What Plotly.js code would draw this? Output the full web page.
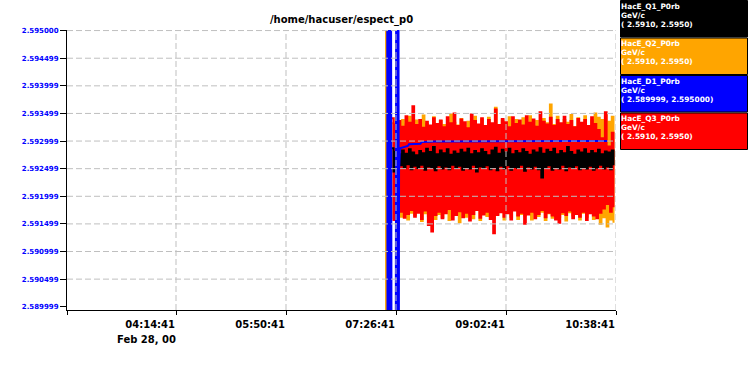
<!DOCTYPE html>
<html><head><meta charset="utf-8">
<script src="https://cdn.plot.ly/plotly-3.0.1.min.js"></script>
<style>html,body{margin:0;padding:0;background:#fff}#chart{width:748px;height:375px}</style>
</head><body><div id="chart"></div>
<script>
const chartTitle = "/home/hacuser/espect_p0";
const day = "2000-02-28";
const dateLabel = "Feb 28, 00";
const xTickTimes = ["02:39:33","04:14:41","05:50:41","07:26:41","09:02:41","10:38:41"];
const xTickLabels = ["","04:14:41","05:50:41","07:26:41","09:02:41","10:38:41"];
const xRangeTimes = ["02:39:33","10:38:41"];
const yTickLabels = ["2.595000","2.594499","2.593999","2.593499","2.592999","2.592499","2.591999","2.591499","2.590999","2.590499","2.589999"];
const yRange = [2.58994, 2.59501];

const sampleTimes = [
"07:23:00","07:24:30","07:26:00","07:27:30","07:29:00","07:30:30","07:32:00","07:33:30","07:35:00","07:36:30",
"07:38:00","07:39:30","07:41:00","07:42:30","07:44:00","07:45:30","07:47:00","07:48:30","07:50:00","07:51:30",
"07:53:00","07:54:30","07:56:00","07:57:30","07:59:00","08:00:30","08:02:00","08:03:30","08:05:00","08:06:30",
"08:08:00","08:09:30","08:11:00","08:12:30","08:14:00","08:15:30","08:17:00","08:18:30","08:20:00","08:21:30",
"08:23:00","08:24:30","08:26:00","08:27:30","08:29:00","08:30:30","08:32:00","08:33:30","08:35:00","08:36:30",
"08:38:00","08:39:30","08:41:00","08:42:30","08:44:00","08:45:30","08:47:00","08:48:30","08:50:00","08:51:30",
"08:53:00","08:54:30","08:56:00","08:57:30","08:59:00","09:00:30","09:02:00","09:03:30","09:05:00","09:06:30",
"09:08:00","09:09:30","09:11:00","09:12:30","09:14:00","09:15:30","09:17:00","09:18:30","09:20:00","09:21:30",
"09:23:00","09:24:30","09:26:00","09:27:30","09:29:00","09:30:30","09:32:00","09:33:30","09:35:00","09:36:30",
"09:38:00","09:39:30","09:41:00","09:42:30","09:44:00","09:45:30","09:47:00","09:48:30","09:50:00","09:51:30",
"09:53:00","09:54:30","09:56:00","09:57:30","09:59:00","10:00:30","10:02:00","10:03:30","10:05:00","10:06:30",
"10:08:00","10:09:30","10:11:00","10:12:30","10:14:00","10:15:30","10:17:00","10:18:30","10:20:00","10:21:30",
"10:23:00","10:24:30","10:26:00","10:27:30","10:29:00","10:30:30","10:32:00","10:33:30","10:35:00","10:36:30"];

// HacE_Q3_P0rb (red)
const q3Values = [
2.59341,2.59157,2.59330,2.59165,2.59336,2.59172,2.59326,2.59161,2.59345,2.59168,
2.59333,2.59175,2.59363,2.59163,2.59329,2.59170,2.59338,2.59159,2.59324,2.59174,
2.59335,2.59148,2.59328,2.59136,2.59341,2.59166,2.59331,2.59172,2.59337,2.59160,
2.59325,2.59169,2.59343,2.59177,2.59332,2.59158,2.59350,2.59166,2.59327,2.59173,
2.59339,2.59162,2.59334,2.59170,2.59323,2.59156,2.59348,2.59168,2.59336,2.59175,
2.59330,2.59161,2.59341,2.59167,2.59327,2.59172,2.59338,2.59159,2.59332,2.59133,
2.59357,2.59166,2.59329,2.59171,2.59340,2.59163,2.59334,2.59169,2.59325,2.59158,
2.59343,2.59174,2.59331,2.59165,2.59337,2.59170,2.59328,2.59150,2.59345,2.59167,
2.59333,2.59172,2.59339,2.59160,2.59326,2.59168,2.59352,2.59175,2.59335,2.59162,
2.59330,2.59170,2.59342,2.59165,2.59327,2.59158,2.59338,2.59152,2.59332,2.59171,
2.59344,2.59166,2.59329,2.59174,2.59336,2.59160,2.59325,2.59168,2.59340,2.59163,
2.59333,2.59172,2.59338,2.59157,2.59327,2.59169,2.59343,2.59165,2.59331,2.59160,
2.59320,2.59170,2.59305,2.59178,2.59352,2.59186,2.59290,2.59172,2.59315,2.59180];

// HacE_Q2_P0rb (orange)
const q2Values = [
2.59332,2.59160,2.59341,2.59168,2.59325,2.59163,2.59338,2.59175,2.59330,2.59158,
2.59344,2.59170,2.59328,2.59166,2.59337,2.59173,2.59322,2.59155,2.59346,2.59169,
2.59331,2.59164,2.59326,2.59176,2.59343,2.59159,2.59324,2.59168,2.59336,2.59162,
2.59329,2.59174,2.59321,2.59157,2.59348,2.59171,2.59333,2.59166,2.59328,2.59153,
2.59340,2.59173,2.59323,2.59163,2.59335,2.59168,2.59329,2.59160,2.59344,2.59175,
2.59326,2.59157,2.59339,2.59169,2.59324,2.59164,2.59342,2.59172,2.59331,2.59160,
2.59360,2.59167,2.59328,2.59174,2.59337,2.59158,2.59323,2.59170,2.59343,2.59163,
2.59330,2.59176,2.59338,2.59159,2.59325,2.59168,2.59341,2.59165,2.59330,2.59173,
2.59345,2.59158,2.59327,2.59170,2.59336,2.59164,2.59324,2.59172,2.59340,2.59157,
2.59332,2.59169,2.59366,2.59161,2.59329,2.59175,2.59344,2.59163,2.59326,2.59168,
2.59338,2.59156,2.59333,2.59171,2.59347,2.59165,2.59325,2.59174,2.59341,2.59158,
2.59330,2.59170,2.59345,2.59163,2.59327,2.59172,2.59337,2.59159,2.59350,2.59167,
2.59342,2.59150,2.59338,2.59162,2.59346,2.59145,2.59335,2.59158,2.59344,2.59152];
const q2PreTimes = ["07:18:00","07:18:01","07:18:02"];
const q2PreValues = [2.5966, 2.5884, null];

// HacE_Q1_P0rb (black)
const q1Values = [
2.59287,2.59245,2.59280,2.59250,2.59276,2.59256,2.59283,2.59252,2.59277,2.59258,
2.59285,2.59249,2.59279,2.59255,2.59274,2.59251,2.59282,2.59257,2.59278,2.59248,
2.59286,2.59254,2.59280,2.59252,2.59289,2.59247,2.59276,2.59256,2.59283,2.59250,
2.59278,2.59254,2.59285,2.59249,2.59275,2.59257,2.59281,2.59251,2.59277,2.59255,
2.59284,2.59248,2.59279,2.59253,2.59286,2.59250,2.59276,2.59257,2.59282,2.59245,
2.59278,2.59254,2.59285,2.59251,2.59280,2.59256,2.59274,2.59249,2.59283,2.59253,
2.59288,2.59247,2.59277,2.59255,2.59284,2.59250,2.59279,2.59256,2.59286,2.59248,
2.59276,2.59253,2.59282,2.59251,2.59278,2.59257,2.59285,2.59246,2.59280,2.59254,
2.59275,2.59250,2.59283,2.59255,2.59279,2.59249,2.59287,2.59234,2.59277,2.59252,
2.59284,2.59256,2.59280,2.59248,2.59286,2.59253,2.59276,2.59250,2.59282,2.59257,
2.59278,2.59247,2.59289,2.59254,2.59280,2.59251,2.59275,2.59256,2.59283,2.59249,
2.59279,2.59253,2.59285,2.59250,2.59277,2.59255,2.59282,2.59248,2.59278,2.59252,
2.59284,2.59257,2.59276,2.59250,2.59281,2.59254,2.59279,2.59249,2.59283,2.59256];

// HacE_D1_P0rb (blue)
const d1Times = ["07:19:00","07:19:20","07:19:40","07:20:00","07:20:20","07:20:40","07:21:00","07:21:20","07:21:40","07:22:00","07:22:20","07:22:45",
"07:24:00",
"07:26:30","07:26:50","07:27:10","07:27:30","07:27:50","07:28:10","07:28:30","07:28:50","07:29:10",
"07:29:20","07:30:10","07:37:00","07:38:00","07:48:00","07:49:00","08:00:00","09:00:00","10:00:00","10:31:00"];
const d1Values = [2.5960,2.5888,2.5960,2.5888,2.5960,2.5888,2.5960,2.5888,2.5960,2.5888,2.5960,2.5888,
null,
2.5888,2.5960,2.5888,2.5960,2.5888,2.5960,2.5888,2.5960,2.5888,
2.59245,2.59287,2.59291,2.59294,2.59295,2.59298,2.59299,2.59300,2.59300,2.59300];

const legendNames = ["HacE_Q1_P0rb","HacE_Q2_P0rb","HacE_D1_P0rb","HacE_Q3_P0rb"];
const legendUnits = ["GeV/c","GeV/c","GeV/c","GeV/c"];
const legendRanges = ["( 2.5910, 2.5950)","( 2.5910, 2.5950)","( 2.589999, 2.595000)","( 2.5910, 2.5950)"];
const legendColors = ["#000000","#ffa500","#0000ff","#ff0000"];

const toDate = t => day + " " + t;
const L = 67, R = 616, T = 30, B = 310;
const px = x => (x - L) / (R - L);
const py = y => (B - y) / (B - T);
const FONT = "DejaVu Sans, Verdana, sans-serif";

const traces = [
  {x: q2PreTimes.concat(sampleTimes).map(toDate), y: q2PreValues.concat(q2Values), type: "scatter", mode: "lines",
   line: {color: "#ffa500", width: 2, shape: "hv"}, connectgaps: false, name: legendNames[1]},
  {x: sampleTimes.map(toDate), y: q3Values, type: "scatter", mode: "lines",
   line: {color: "#ff0000", width: 2, shape: "hv"}, name: legendNames[3]},
  {x: sampleTimes.map(toDate), y: q1Values, type: "scatter", mode: "lines",
   line: {color: "#000000", width: 2, shape: "hv"}, name: legendNames[0]},
  {x: d1Times.map(toDate), y: d1Values, type: "scatter", mode: "lines", connectgaps: false,
   line: {color: "#0000ff", width: 2}, name: legendNames[2]}
];

const gridStyle = {color: "#bfbfbf", width: 1, dash: "6px,3px"};
const shapes = [];
xTickTimes.slice(1).forEach(t => shapes.push({type: "line", xref: "x", yref: "paper", x0: toDate(t), x1: toDate(t), y0: 0, y1: 1, line: gridStyle, layer: "above"}));
yTickLabels.slice(0, -1).forEach(s => shapes.push({type: "line", xref: "paper", yref: "y", x0: 0, x1: 1, y0: parseFloat(s), y1: parseFloat(s), line: gridStyle, layer: "above"}));

const annotations = [];
legendNames.forEach((n, i) => {
  const top = 0.5 + 37.5 * i;
  shapes.push({type: "rect", xref: "paper", yref: "paper", x0: px(620.5), x1: px(747.5), y0: py(top), y1: py(top + 36.5),
    fillcolor: legendColors[i], line: {color: "#000000", width: 1}, layer: "above"});
  [n, legendUnits[i], legendRanges[i]].forEach((txt, j) => {
    annotations.push({xref: "paper", yref: "paper", x: px(619.3), y: py(top + [5.5, 14.6, 23.8][j]),
      xanchor: "left", yanchor: "middle", showarrow: false, text: txt, align: "left",
      font: {family: FONT, size: 7.4, color: "#ffffff", weight: "bold"}});
  });
});
annotations.push({xref: "x", yref: "paper", x: toDate(xTickTimes[1]), y: py(339), xanchor: "right", yanchor: "middle",
  showarrow: false, text: dateLabel, xshift: 2, font: {family: FONT, size: 10, color: "#000000", weight: "bold"}});

const layout = {
  width: 748, height: 375,
  margin: {l: L, r: 748 - R, t: T, b: 375 - B, pad: 0},
  paper_bgcolor: "#ffffff", plot_bgcolor: "#ffffff",
  showlegend: false,
  title: {text: chartTitle, x: 0.5, xref: "paper", xanchor: "center", y: 1 - 19 / 375, yref: "container", yanchor: "middle",
    font: {family: FONT, size: 10, color: "#000000", weight: "bold"}},
  xaxis: {type: "date", range: xRangeTimes.map(toDate), showgrid: false, zeroline: false,
    tickmode: "array", tickvals: xTickTimes.map(toDate), ticktext: xTickLabels,
    ticks: "outside", ticklen: 4, tickcolor: "#000000", tickwidth: 1, ticklabelstandoff: 5,
    showline: true, linecolor: "#000000", linewidth: 1, ticklabelposition: "outside left",
    tickfont: {family: FONT, size: 10, color: "#000000", weight: "bold"}},
  yaxis: {range: yRange, showgrid: false, zeroline: false,
    tickmode: "array", tickvals: yTickLabels.map(parseFloat), ticktext: yTickLabels,
    ticks: "outside", ticklen: 6, tickcolor: "#000000", tickwidth: 1,
    showline: true, linecolor: "#000000", linewidth: 1,
    tickfont: {family: FONT, size: 7, color: "#0000ff", weight: "bold"}},
  shapes: shapes,
  annotations: annotations
};

Plotly.newPlot("chart", traces, layout, {staticPlot: true, displayModeBar: false});
</script>
</body></html>
